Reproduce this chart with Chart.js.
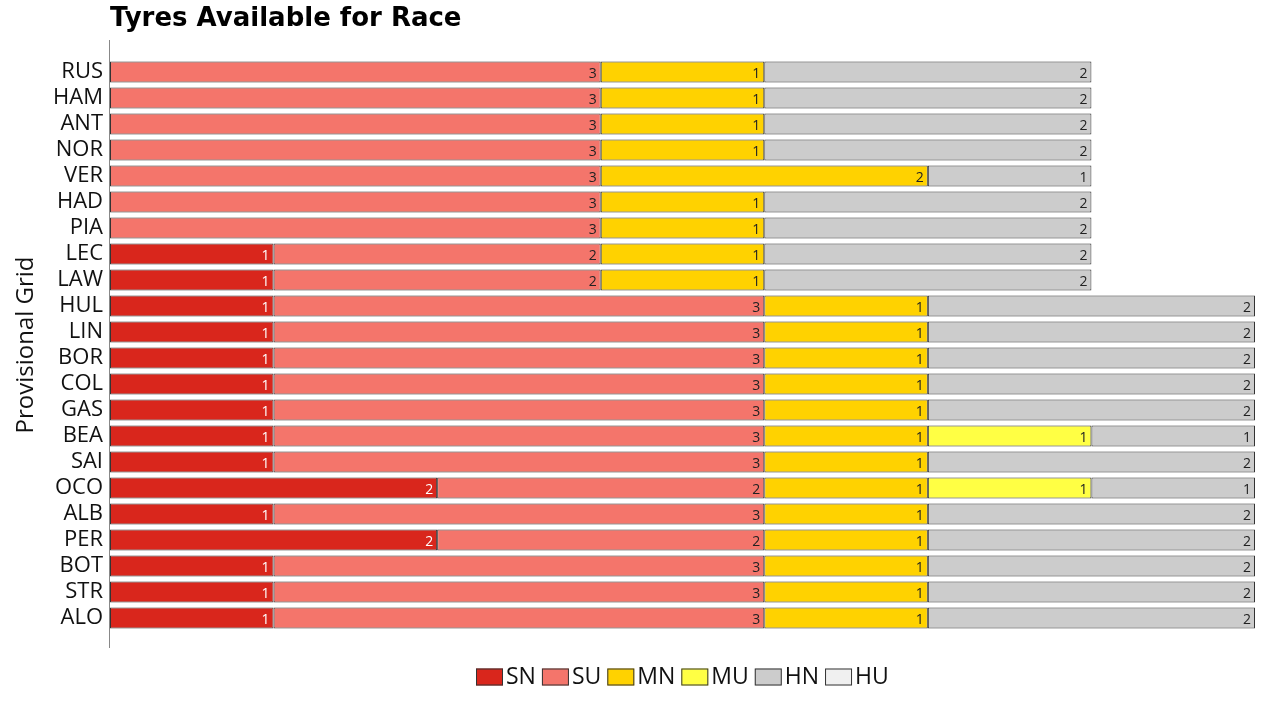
<!DOCTYPE html>
<html>
<head>
<meta charset="utf-8">
<script src="https://cdn.jsdelivr.net/npm/chart.js@4"></script>
<style>
  html, body { margin: 0; padding: 0; background: #fff; }
  #wrap { width: 1280px; height: 720px; }
</style>
</head>
<body>
<div id="wrap"><canvas id="tyreChart" width="1280" height="720"></canvas></div>
<script>
// Drivers in provisional grid order
let drivers = ['RUS', 'HAM', 'ANT', 'NOR', 'VER', 'HAD', 'PIA', 'LEC', 'LAW', 'HUL', 'LIN',
    'BOR', 'COL', 'GAS', 'BEA', 'SAI', 'OCO', 'ALB', 'PER', 'BOT', 'STR', 'ALO'];

// Tyre sets per compound (N = new, U = used)
let softNew   = [0, 0, 0, 0, 0, 0, 0, 1, 1, 1, 1, 1, 1, 1, 1, 1, 2, 1, 2, 1, 1, 1];
let softUsed  = [3, 3, 3, 3, 3, 3, 3, 2, 2, 3, 3, 3, 3, 3, 3, 3, 2, 3, 2, 3, 3, 3];
let mediumNew = [1, 1, 1, 1, 2, 1, 1, 1, 1, 1, 1, 1, 1, 1, 1, 1, 1, 1, 1, 1, 1, 1];
let mediumUsed = [0, 0, 0, 0, 0, 0, 0, 0, 0, 0, 0, 0, 0, 0, 1, 0, 1, 0, 0, 0, 0, 0];
let hardNew   = [2, 2, 2, 2, 1, 2, 2, 2, 2, 2, 2, 2, 2, 2, 1, 2, 1, 2, 2, 2, 2, 2];
let hardUsed  = [0, 0, 0, 0, 0, 0, 0, 0, 0, 0, 0, 0, 0, 0, 0, 0, 0, 0, 0, 0, 0, 0];

let compounds = ['SN', 'SU', 'MN', 'MU', 'HN', 'HU'];
let colors = ['#d9261c', '#f4756b', '#ffd200', '#ffff44', '#cccccc', '#f0f0f0'];
let labelColors = ['#ffffff', '#222222', '#222222', '#222222', '#222222', '#222222'];
let series = [softNew, softUsed, mediumNew, mediumUsed, hardNew, hardUsed];

const FONT = "'Open Sans', 'Noto Sans', sans-serif";

// Title, left axis line and legend drawn by hand
const decorPlugin = {
    id: 'decor',
    afterDraw(chart) {
        const ctx = chart.ctx;
        const area = chart.chartArea;
        ctx.save();
        ctx.fillStyle = '#000';
        ctx.font = "bold 26px 'DejaVu Sans', sans-serif";
        ctx.textBaseline = 'middle';
        ctx.textAlign = 'left';
        ctx.fillText('Tyres Available for Race', area.left, 19);

        ctx.strokeStyle = '#888';
        ctx.lineWidth = 1;
        ctx.beginPath();
        ctx.moveTo(area.left - 0.5, 40);
        ctx.lineTo(area.left - 0.5, 648);
        ctx.stroke();

        // legend centred under the plot area
        ctx.font = '23px ' + FONT;
        const boxW = 27, boxH = 17, textGap = 3, itemGap = 6;
        let total = 0;
        compounds.forEach((c, i) => {
            total += boxW + textGap + ctx.measureText(c).width;
            if (i < compounds.length - 1) total += itemGap;
        });
        let x = Math.round((area.left + area.right) / 2 - total / 2);
        const cy = 677;
        compounds.forEach((c, i) => {
            ctx.fillStyle = colors[i];
            ctx.fillRect(x, cy - boxH / 2, boxW, boxH);
            ctx.strokeStyle = '#333';
            ctx.strokeRect(x + 0.5, cy - boxH / 2 + 0.5, boxW - 1, boxH - 1);
            ctx.fillStyle = '#111';
            ctx.fillText(c, x + boxW + textGap, cy);
            x += boxW + textGap + ctx.measureText(c).width + itemGap;
        });
        ctx.restore();
    }
};

// Value labels at the right end of each segment
const valuePlugin = {
    id: 'values',
    afterDatasetsDraw(chart) {
        const ctx = chart.ctx;
        ctx.save();
        ctx.font = '14px ' + FONT;
        ctx.textAlign = 'right';
        ctx.textBaseline = 'middle';
        chart.data.datasets.forEach((ds, i) => {
            const meta = chart.getDatasetMeta(i);
            meta.data.forEach((bar, j) => {
                const v = ds.data[j];
                if (!v) return;
                ctx.fillStyle = labelColors[i];
                ctx.fillText(String(v), bar.x - 4, bar.y + 2);
            });
        });
        ctx.restore();
    }
};

let ctx = document.getElementById('tyreChart').getContext('2d');
let tyreChart = new Chart(ctx, {
    type: 'bar',
    data: {
        labels: drivers,
        datasets: compounds.map((c, i) => ({
            label: c,
            data: series[i],
            backgroundColor: colors[i],
            borderColor: '#333333',
            borderWidth: 1,
            borderSkipped: false,
            barPercentage: 0.8,
            categoryPercentage: 1
        }))
    },
    options: {
        indexAxis: 'y',
        responsive: false,
        animation: false,
        layout: {
            padding: { top: 59, right: 25, bottom: 89, left: 0 }
        },
        scales: {
            x: {
                stacked: true,
                display: false,
                min: 0,
                max: 7
            },
            y: {
                stacked: true,
                grid: { display: false },
                border: { display: false },
                ticks: {
                    color: '#111',
                    font: { family: FONT, size: 22 },
                    padding: -1,
                    autoSkip: false
                },
                title: {
                    display: true,
                    text: 'Provisional Grid',
                    color: '#111',
                    font: { family: FONT, size: 24 },
                    padding: { top: 12, bottom: 2 }
                },
                afterFit(scale) { scale.width = 110; }
            }
        },
        plugins: {
            legend: { display: false },
            tooltip: { enabled: false }
        }
    },
    plugins: [decorPlugin, valuePlugin]
});
</script>
</body>
</html>
